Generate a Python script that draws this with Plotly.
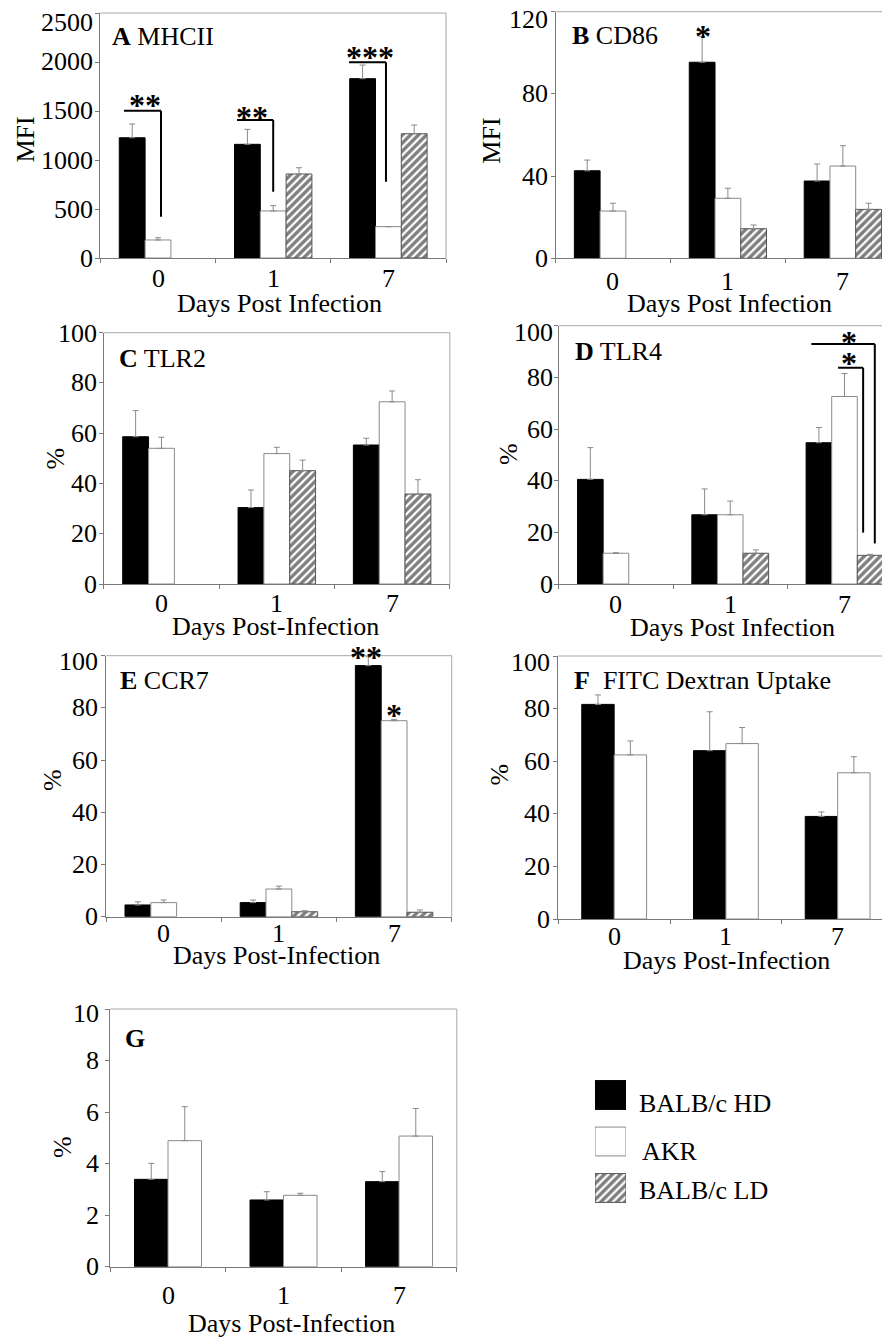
import plotly.graph_objects as go

W, H = 890, 1337
OFF = 8  # the page body adds an 8 px margin around the figure
FONT = "Liberation Serif"
days = ["0", "1", "7"]
groups = ["BALB/c HD", "AKR", "BALB/c LD"]

# ---- Panel A: MHCII (MFI) ----
mhcii_hd = [1227, 1160, 1830]
mhcii_hd_sem = [140, 153, 139]
mhcii_akr = [184, 480, 320]
mhcii_akr_sem = [23, 54, 0]
mhcii_ld = [None, 857, 1268]
mhcii_ld_sem = [0, 64, 89]

# ---- Panel B: CD86 (MFI) ----
cd86_hd = [42.6, 95.4, 37.6]
cd86_hd_sem = [5.2, 12.4, 8.3]
cd86_akr = [23.0, 29.2, 44.9]
cd86_akr_sem = [3.8, 4.9, 9.9]
cd86_ld = [None, 14.4, 23.8]
cd86_ld_sem = [0, 1.8, 3.0]

# ---- Panel C: TLR2 (%) ----
tlr2_hd = [58.6, 30.4, 55.3]
tlr2_hd_sem = [10.4, 7.0, 2.7]
tlr2_akr = [54.0, 51.9, 72.5]
tlr2_akr_sem = [4.4, 2.5, 4.3]
tlr2_ld = [None, 45.1, 35.8]
tlr2_ld_sem = [0, 4.2, 5.7]

# ---- Panel D: TLR4 (%) ----
tlr4_hd = [40.5, 26.8, 54.7]
tlr4_hd_sem = [12.3, 10.0, 5.9]
tlr4_akr = [11.9, 26.8, 72.6]
tlr4_akr_sem = [0.2, 5.3, 8.9]
tlr4_ld = [None, 11.9, 11.1]
tlr4_ld_sem = [0, 1.3, 0.4]

# ---- Panel E: CCR7 (%) ----
ccr7_hd = [4.5, 5.4, 96.2]
ccr7_hd_sem = [1.2, 1.0, 3.4]
ccr7_akr = [5.4, 10.6, 75.1]
ccr7_akr_sem = [1.0, 1.1, 0.5]
ccr7_ld = [None, 1.9, 1.7]
ccr7_ld_sem = [0, 0.4, 0.9]

# ---- Panel F: FITC Dextran uptake (%) ----
fitc_hd = [81.6, 64.0, 39.0]
fitc_hd_sem = [3.6, 14.8, 1.7]
fitc_akr = [62.4, 66.7, 55.6]
fitc_akr_sem = [5.3, 6.1, 6.1]

# ---- Panel G (%) ----
g_hd = [3.39, 2.59, 3.30]
g_hd_sem = [0.62, 0.32, 0.39]
g_akr = [4.89, 2.77, 5.07]
g_akr_sem = [1.32, 0.08, 1.07]

# y tick values per panel
mfi_ticks_a = [0, 500, 1000, 1500, 2000, 2500]
mfi_ticks_b = [0, 40, 80, 120]
pct_ticks = [0, 20, 40, 60, 80, 100]
g_ticks = [0, 2, 4, 6, 8, 10]

# significance brackets (x_start, x_end, y_top, y_bottom) in axis units
mhcii_brackets = [(-0.295, 0.026, 1503, 421), (0.686, 1.0, 1408, 677), (1.658, 1.979, 1997, 779)]
mhcii_stars = [(-0.11, 1597, "**"), (0.82, 1480, "**"), (1.84, 2092, "***")]
cd86_stars = [(0.78, 109.9, "*")]
tlr4_brackets = [(1.71, 2.265, 92.9, 15.7), (1.944, 2.163, 83.7, 19.9)]
tlr4_stars = [(2.04, 95.2, "*"), (2.04, 87.1, "*")]
ccr7_stars = [(1.76, 101.2, "**"), (2.0, 78.8, "*")]


def X(px):
    return (px - OFF) / W


def Y(py):
    return 1 - (py - OFF) / H


STYLE = {
    "hd": dict(color="black", line=dict(color="black", width=1)),
    "akr": dict(color="white", line=dict(color="#8a8a8a", width=1)),
    "ld": dict(color="white", line=dict(color="#555555", width=1),
               pattern=dict(shape="/", fgcolor="black", bgcolor="white", size=5.657, solidity=0.6)),
}

panels = [
    dict(series=[("hd", mhcii_hd, mhcii_hd_sem), ("akr", mhcii_akr, mhcii_akr_sem), ("ld", mhcii_ld, mhcii_ld_sem)],
         box=(100.4, 446, 13, 258), xend=2.5, yr=(0, 2500), ticks=mfi_ticks_a, topshift=9, gap=5,
         ylab="MFI", ylabpos=(25.5, 140),
         title="<b>A</b> MHCII", tpos=(110, 36), xlab="Days Post Infection", xlabpos=(279, 303), ticky=278,
         brackets=mhcii_brackets, stars=mhcii_stars),
    dict(series=[("hd", cd86_hd, cd86_hd_sem), ("akr", cd86_akr, cd86_akr_sem), ("ld", cd86_ld, cd86_ld_sem)],
         box=(555.5, 898, 11.7, 258.3), xend=2.48, yr=(0, 120), ticks=mfi_ticks_b, topshift=8, gap=5.5,
         ylab="MFI", ylabpos=(491.7, 141),
         title="<b>B</b> CD86", tpos=(570, 35), xlab="Days Post Infection", xlabpos=(729, 303), ticky=281,
         brackets=[], stars=cd86_stars),
    dict(series=[("hd", tlr2_hd, tlr2_hd_sem), ("akr", tlr2_akr, tlr2_akr_sem), ("ld", tlr2_ld, tlr2_ld_sem)],
         box=(103.8, 449.8, 332.7, 584), xend=2.5, yr=(0, 100), ticks=pct_ticks, topshift=1, gap=4.5,
         ylab="%", ylabpos=(55, 458.5),
         title="<b>C</b> TLR2", tpos=(117.3, 358.3), xlab="Days Post-Infection", xlabpos=(275, 626.5), ticky=603,
         brackets=[], stars=[]),
    dict(series=[("hd", tlr4_hd, tlr4_hd_sem), ("akr", tlr4_akr, tlr4_akr_sem), ("ld", tlr4_ld, tlr4_ld_sem)],
         box=(558.8, 898, 325.7, 584), xend=2.468, yr=(0, 100), ticks=pct_ticks, topshift=7, gap=4,
         ylab="%", ylabpos=(509, 454),
         title="<b>D</b> TLR4", tpos=(572.7, 351.7), xlab="Days Post Infection", xlabpos=(732.5, 627.5), ticky=605,
         brackets=tlr4_brackets, stars=tlr4_stars),
    dict(series=[("hd", ccr7_hd, ccr7_hd_sem), ("akr", ccr7_akr, ccr7_akr_sem), ("ld", ccr7_ld, ccr7_ld_sem)],
         box=(106.1, 451.7, 655.7, 916.7), xend=2.5, yr=(0, 100), ticks=pct_ticks, topshift=6, gap=6,
         ylab="%", ylabpos=(52, 780),
         title="<b>E</b> CCR7", tpos=(118.3, 680), xlab="Days Post-Infection", xlabpos=(276.7, 956), ticky=933,
         brackets=[], stars=ccr7_stars),
    dict(series=[("hd", fitc_hd, fitc_hd_sem), ("akr", fitc_akr, fitc_akr_sem)],
         box=(558.3, 898, 656, 919), xend=2.54, yr=(0, 100), ticks=pct_ticks, topshift=7, gap=6.5,
         ylab="%", ylabpos=(498.5, 775),
         title="<b>F</b>  FITC Dextran Uptake", tpos=(571.7, 680), xlab="Days Post-Infection", xlabpos=(726.7, 961),
         ticky=936.7, brackets=[], stars=[]),
    dict(series=[("hd", g_hd, g_hd_sem), ("akr", g_akr, g_akr_sem)],
         box=(110.25, 456.8, 1009, 1266.7), xend=2.5, yr=(0, 10), ticks=g_ticks, topshift=4, gap=9,
         ylab="%", ylabpos=(62.5, 1147.5),
         title="<b>G</b>", tpos=(122.7, 1038.3), xlab="Days Post-Infection", xlabpos=(291.7, 1323), ticky=1295,
         brackets=[], stars=[]),
]

fig = go.Figure()
annotations = []
shapes = []
layout = {}


def txt(x, y, text, xref="paper", yref="paper", size=26, **kw):
    d = dict(x=x, y=y, xref=xref, yref=yref, text=text, showarrow=False,
             font=dict(family=FONT, size=size, color="black"), xanchor="center", yanchor="middle")
    d.update(kw)
    return d


for i, p in enumerate(panels):
    n = i + 1
    sfx = "" if n == 1 else str(n)
    xref, yref = "x" + sfx, "y" + sfx
    left, right, top, bottom = p["box"]
    y0, y1 = p["yr"]
    nb = len(p["series"])
    bw = 0.224 if nb == 3 else 0.29
    for k, (key, vals, sem) in enumerate(p["series"]):
        off = -nb * bw / 2 + k * bw
        fig.add_trace(go.Bar(
            x=days, y=vals, xaxis=xref, yaxis=yref, width=bw, offset=off,
            marker=STYLE[key], showlegend=False,
            error_y=dict(type="data", symmetric=False, array=sem, arrayminus=[0] * len(sem),
                         color="#8a8a8a", thickness=1, width=3),
        ))
    layout["xaxis" + sfx] = dict(
        domain=[X(left), min(1.0, X(right))], anchor=yref, type="category", range=[-0.5, p["xend"]],
        showline=True, linecolor="#7a7a7a", linewidth=1, ticks="outside", tickson="boundaries",
        ticklen=4, tickcolor="#7a7a7a", showgrid=False, zeroline=False, showticklabels=False,
    )
    layout["yaxis" + sfx] = dict(
        domain=[Y(bottom), Y(top)], anchor=xref, range=[y0, y1], tickvals=p["ticks"],
        showline=True, linecolor="#7a7a7a", linewidth=1, ticks="outside", ticklen=4,
        tickcolor="#7a7a7a", showgrid=False, zeroline=False, showticklabels=False,
    )
    # y tick labels, placed through the panel's linear value scale
    for v in p["ticks"]:
        py = bottom - (v - y0) / (y1 - y0) * (bottom - top)
        if v == y1:
            py += p["topshift"]
        annotations.append(txt(X(left - p["gap"]), Y(py), str(v), xanchor="right"))
    # x tick labels (category names) placed under each category
    for c, d in enumerate(days):
        annotations.append(txt(c, Y(p["ticky"]), d, xref=xref))
    # top / right frame
    shapes.append(dict(type="line", xref=xref + " domain", yref=yref + " domain", x0=0, x1=1, y0=1, y1=1,
                       line=dict(color="#a8a8a8", width=1)))
    if right < W - 1:
        shapes.append(dict(type="line", xref=xref + " domain", yref=yref + " domain", x0=1, x1=1, y0=0, y1=1,
                           line=dict(color="#a8a8a8", width=1)))
    for (bx0, bx1, yt, yb) in p["brackets"]:
        shapes.append(dict(type="line", xref=xref, yref=yref, x0=bx0, x1=bx1, y0=yt, y1=yt,
                           line=dict(color="black", width=2)))
        shapes.append(dict(type="line", xref=xref, yref=yref, x0=bx1, x1=bx1, y0=yt, y1=yb,
                           line=dict(color="black", width=2)))
    # significance stars: data value -> paper position through this panel's scale
    for (sx, sy, s) in p["stars"]:
        ppx = left + (sx + 0.5) / (p["xend"] + 0.5) * (right - left)
        ppy = bottom - (sy - y0) / (y1 - y0) * (bottom - top)
        annotations.append(txt(X(ppx), Y(ppy), "<b>%s</b>" % s, size=32, yshift=-4))
    annotations.append(txt(X(p["tpos"][0]), Y(p["tpos"][1]), p["title"], xanchor="left"))
    annotations.append(txt(X(p["ylabpos"][0]), Y(p["ylabpos"][1]), p["ylab"], textangle=-90))
    annotations.append(txt(X(p["xlabpos"][0]), Y(p["xlabpos"][1]), p["xlab"]))

# ---- legend swatches drawn on a hidden axis ----
legend_keys = ["hd", "akr", "ld"]
legend_swatch = [1, 1, 1]
for k, key in enumerate(legend_keys):
    fig.add_trace(go.Bar(y=[groups[k]], x=[legend_swatch[k]], orientation="h", xaxis="x8", yaxis="y8",
                         width=0.62, offset=-0.31, marker=STYLE[key], showlegend=False))
layout["xaxis8"] = dict(domain=[X(595), X(626)], anchor="y8", range=[0, 1], visible=False)
layout["yaxis8"] = dict(domain=[Y(1211.25), Y(1071.75)], anchor="x8", type="category",
                        categoryorder="array", categoryarray=groups, autorange="reversed", visible=False)
legend_text_pos = [(636.7, 1103.5), (640, 1151), (636.7, 1190)]
for k, g in enumerate(groups):
    annotations.append(txt(X(legend_text_pos[k][0]), Y(legend_text_pos[k][1]), g, xanchor="left"))

fig.update_layout(
    width=W, height=H, margin=dict(l=0, r=0, t=0, b=0, autoexpand=False), autosize=False,
    paper_bgcolor="white", plot_bgcolor="white", barmode="group",
    annotations=annotations, shapes=shapes, showlegend=False,
    **layout,
)
fig.write_html("out.html")
